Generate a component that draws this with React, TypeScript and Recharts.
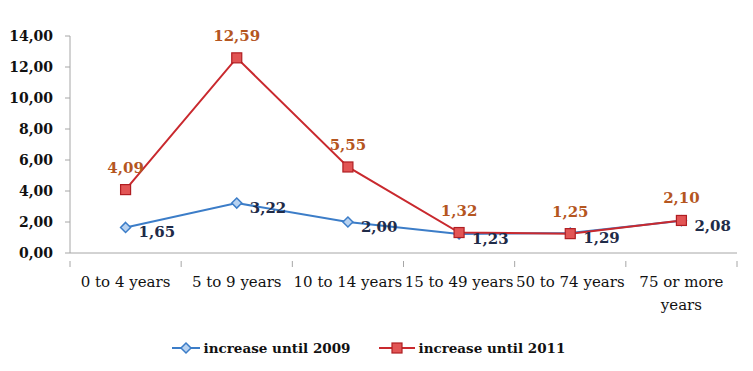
import { LineChart, Line, XAxis, YAxis, Legend, LabelList } from 'recharts'

const categories = ['0 to 4 years', '5 to 9 years', '10 to 14 years', '15 to 49 years', '50 to 74 years', '75 or more years']
const until2009 = [1.65, 3.22, 2.0, 1.23, 1.29, 2.08]
const until2011 = [4.09, 12.59, 5.55, 1.32, 1.25, 2.1]
const yTicks = [0, 2, 4, 6, 8, 10, 12, 14]

const data = categories.map((name, i) => ({ name, a: until2009[i], b: until2011[i] }))

const FONT = '"DejaVu Serif", "Liberation Serif", serif'
const BLUE = '#3c7dc8'
const RED = '#c9292e'
const AXIS = '#a6a6a6'

const fmt = (v: number) => v.toFixed(2).replace('.', ',')

function Diamond({ cx, cy }: { cx: number; cy: number }) {
  return <path d={`M${cx},${cy - 5}L${cx + 5},${cy}L${cx},${cy + 5}L${cx - 5},${cy}Z`} fill="#b8d2f0" stroke={BLUE} strokeWidth={1.5} />
}

function Square({ cx, cy }: { cx: number; cy: number }) {
  return <rect x={cx - 5} y={cy - 5} width={10} height={10} fill="#e25555" stroke="#b01e22" strokeWidth={1.2} />
}

function XTick(props: any) {
  const { x, y, payload, index, width, visibleTicksCount } = props
  const half = width / visibleTicksCount / 2
  const words = String(payload.value).split(' ')
  const lines = String(payload.value).length > 14 ? [words.slice(0, -1).join(' '), words[words.length - 1]] : [payload.value]
  return (
    <g>
      <line x1={x - half} y1={y} x2={x - half} y2={y + 6} stroke={AXIS} />
      {index === visibleTicksCount - 1 && <line x1={x + half} y1={y} x2={x + half} y2={y + 6} stroke={AXIS} />}
      <text x={x} y={y + 26} textAnchor="middle" fontFamily={FONT} fontSize={15} fill="#111">
        {lines.map((l: string, i: number) => (
          <tspan key={i} x={x} dy={i === 0 ? 0 : 23}>
            {l}
          </tspan>
        ))}
      </text>
    </g>
  )
}

function RedLabel(props: any) {
  const { x, y, value } = props
  return (
    <text x={x} y={y - 17} textAnchor="middle" fontFamily={FONT} fontWeight="bold" fontSize={15} fill="#b5561f">
      {fmt(value)}
    </text>
  )
}

function BlueLabel(props: any) {
  const { x, y, value } = props
  return (
    <text x={x + 13} y={y + 10} textAnchor="start" fontFamily={FONT} fontWeight="bold" fontSize={15} fill="#1f2b48">
      {fmt(value)}
    </text>
  )
}

function LegendContent() {
  const item = (label: string, color: string, marker: any, w: number) => (
    <div style={{ display: 'flex', alignItems: 'center', margin: '0 14px' }}>
      <svg width={w} height={14}>
        <line x1={0} y1={7} x2={w} y2={7} stroke={color} strokeWidth={2} />
        {marker}
      </svg>
      <span style={{ marginLeft: 4, fontFamily: FONT, fontWeight: 'bold', fontSize: 13.5, color: '#111' }}>{label}</span>
    </div>
  )
  return (
    <div style={{ display: 'flex', justifyContent: 'center', alignItems: 'center', height: 30 }}>
      {item('increase until 2009', BLUE, <Diamond cx={14} cy={7} />, 28)}
      {item('increase until 2011', RED, <Square cx={18} cy={7} />, 36)}
    </div>
  )
}

export default function App() {
  return (
    <div style={{ position: 'absolute', left: 0, top: 0, width: 753, height: 371, background: '#fff' }}>
      <LineChart width={753} height={371} data={data} margin={{ top: 36, right: 16, left: 0, bottom: 8 }}>
        <XAxis
          dataKey="name"
          scale="band"
          height={80}
          stroke={AXIS}
          tickLine={false}
          interval={0}
          tick={<XTick />}
        />
        <YAxis
          width={70}
          domain={[0, 14]}
          ticks={yTicks}
          stroke={AXIS}
          tickSize={5}
          tickMargin={12}
          tickFormatter={fmt}
          tick={{ fontFamily: FONT, fontWeight: 'bold', fontSize: 14, fill: '#111' }}
        />
        <Legend verticalAlign="bottom" content={<LegendContent />} />
        <Line
          dataKey="a"
          stroke={BLUE}
          strokeWidth={2}
          dot={(p: any) => <Diamond key={p.index} cx={p.cx} cy={p.cy} />}
          isAnimationActive={false}
        >
          <LabelList dataKey="a" content={<BlueLabel />} />
        </Line>
        <Line
          dataKey="b"
          stroke={RED}
          strokeWidth={2}
          dot={(p: any) => <Square key={p.index} cx={p.cx} cy={p.cy} />}
          isAnimationActive={false}
        >
          <LabelList dataKey="b" content={<RedLabel />} />
        </Line>
      </LineChart>
    </div>
  )
}
